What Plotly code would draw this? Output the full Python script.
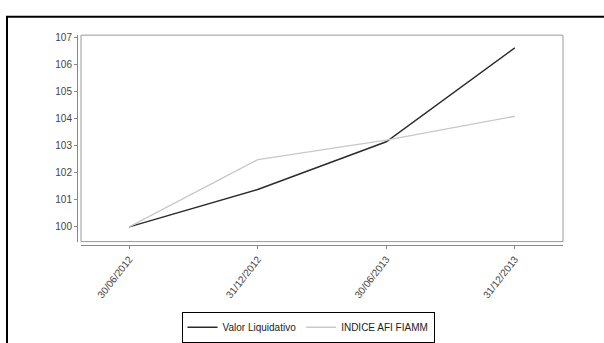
import plotly.graph_objects as go

dates = ["30/06/2012", "31/12/2012", "30/06/2013", "31/12/2013"]
valor_liquidativo = [100.0, 101.38, 103.14, 106.6]
indice_afi_fiamm = [100.0, 102.48, 103.2, 104.08]
y_ticks = [100, 101, 102, 103, 104, 105, 106, 107]

W, H = 604, 343
def px(x): return x / W
def py(y): return 1 - y / H

fig = go.Figure()
fig.add_trace(go.Scatter(x=list(range(len(dates))), y=valor_liquidativo, mode="lines",
                         name="Valor Liquidativo", line=dict(color="#2b2b2b", width=1.4)))
fig.add_trace(go.Scatter(x=list(range(len(dates))), y=indice_afi_fiamm, mode="lines",
                         name="INDICE AFI FIAMM", line=dict(color="#c8c8c8", width=1.4)))

font = dict(family="Liberation Sans, Arial, sans-serif", size=10, color="#444444")

fig.update_layout(
    width=W, height=H,
    margin=dict(l=0, r=0, t=0, b=0),
    paper_bgcolor="white", plot_bgcolor="white",
    font=font,
    showlegend=True,
    legend=dict(orientation="h", x=px(308), xanchor="center", y=py(316), yanchor="top",
                bordercolor="black", borderwidth=1, itemwidth=30,
                font=dict(family="Liberation Sans, Arial, sans-serif", size=10, color="#222222"),
                tracegroupgap=0, itemclick=False),
    xaxis=dict(domain=[px(81), px(563)], range=[-0.375, 3.375],
               tickmode="array", tickvals=list(range(len(dates))), ticktext=dates,
               tickangle=-52, showgrid=False, zeroline=False,
               showline=True, linecolor="#888888", linewidth=1,
               ticks="outside", ticklen=3, tickcolor="#888888",
               anchor="free", position=py(248)),
    yaxis=dict(domain=[py(244), py(32)], range=[99.46, 107.07],
               tickmode="array", tickvals=y_ticks,
               showgrid=False, zeroline=False,
               showline=True, linecolor="#888888", linewidth=1,
               ticks="outside", ticklen=3, tickcolor="#888888",
               anchor="free", position=px(77)),
)

# plot frame
fig.add_shape(type="rect", xref="paper", yref="paper",
              x0=px(81), x1=px(563), y0=py(244), y1=py(32),
              line=dict(color="#999999", width=1), layer="above")
# outer frame (cropped)
fig.add_shape(type="rect", xref="paper", yref="paper",
              x0=px(7), x1=px(800), y0=py(500), y1=py(13),
              line=dict(color="black", width=2), layer="below")

fig.write_html("out.html", config={"displayModeBar": False},
               post_script="document.body.style.margin='0';document.body.style.overflow='hidden';")
